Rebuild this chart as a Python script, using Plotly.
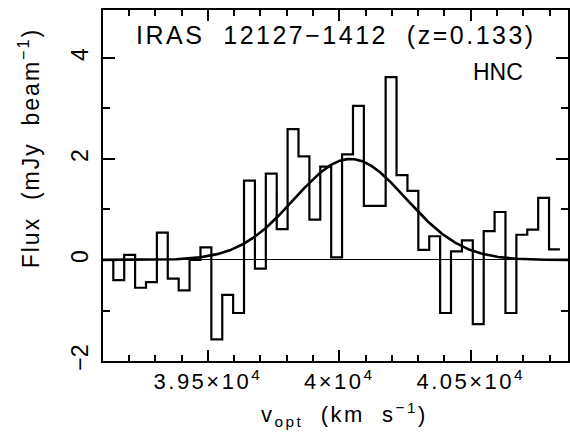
import numpy as np
import plotly.graph_objects as go

# channel centres (km/s) and flux densities (mJy/beam)
velocity = [39119.5, 39160.9, 39202.4, 39243.8, 39285.3, 39326.7, 39368.1, 39409.6,
            39451.0, 39492.5, 39533.9, 39575.4, 39616.8, 39658.2, 39699.7, 39741.1,
            39782.6, 39824.0, 39865.4, 39906.9, 39948.3, 39989.8, 40031.2, 40072.7,
            40114.1, 40155.5, 40197.0, 40238.4, 40279.9, 40321.3, 40362.8, 40404.2,
            40445.6, 40487.1, 40528.5, 40570.0, 40611.4, 40652.8, 40694.3, 40735.7,
            40777.2, 40818.6]
flux = [0.0, -0.40, 0.10, -0.55, -0.44, 0.54, -0.37, -0.60,
        0.0, 0.25, -1.57, -0.69, -1.05, 1.57, -0.17, 1.71,
        0.61, 2.59, 2.05, 0.80, 1.85, 0.05, 2.09, 3.05,
        1.07, 1.07, 3.62, 1.68, 1.37, 0.20, 0.47, -1.05,
        0.17, 0.39, -1.27, 0.57, 0.95, -1.05, 0.50, 0.60,
        1.23, 0.21]

# Gaussian fit parameters
fit_amp = 2.0
fit_center = 40042.0
fit_fwhm = 500.0

x_tickvals = [39500, 40000, 40500]
x_ticktext = ["3.95×10<sup>4</sup>", "4×10<sup>4</sup>", "4.05×10<sup>4</sup>"]
y_tickvals = [-2, 0, 2, 4]
y_ticktext = ["−2", "0", "2", "4"]

FONT = "Liberation Sans, Arial, sans-serif"
LS = "letter-spacing:2.5px"

vel = np.array(velocity)
width = float(np.median(np.diff(vel)))
edges = np.append(vel - width / 2, vel[-1] + width / 2)
step_y = flux + [flux[-1]]

sigma = fit_fwhm / (2 * np.sqrt(2 * np.log(2)))
xfit = np.linspace(39050, 40950, 600)
yfit = fit_amp * np.exp(-0.5 * ((xfit - fit_center) / sigma) ** 2)

fig = go.Figure()
fig.add_trace(go.Scatter(x=edges, y=step_y, mode="lines", line_shape="hv",
                         line=dict(color="black", width=2.2), hoverinfo="skip"))
fig.add_trace(go.Scatter(x=xfit, y=yfit, mode="lines",
                         line=dict(color="black", width=2.6), hoverinfo="skip"))

fig.update_layout(
    width=570, height=441,
    margin=dict(l=103, r=0, t=10, b=80, pad=0),
    paper_bgcolor="white", plot_bgcolor="white",
    showlegend=False,
    font=dict(family=FONT, size=22, color="black"),
)
fig.update_xaxes(
    range=[39101, 40870], showgrid=False, zeroline=False,
    showline=True, linecolor="black", linewidth=2, mirror="ticks",
    ticks="inside", ticklen=11, tickwidth=2, tickcolor="black",
    tickvals=x_tickvals,
    ticktext=[f'<span style="{LS}">{t}</span>' for t in x_ticktext],
    tickfont=dict(size=22),
    minor=dict(dtick=100, tick0=39100, ticks="inside", ticklen=6, tickwidth=2, tickcolor="black"),
)
fig.update_yaxes(
    range=[-2, 4.95], showgrid=False, zeroline=True, zerolinecolor="black", zerolinewidth=1,
    showline=True, linecolor="black", linewidth=2, mirror="ticks",
    ticks="inside", ticklen=12, tickwidth=2, tickcolor="black",
    tickvals=y_tickvals, ticktext=y_ticktext, tickangle=-90,
    tickfont=dict(size=23), ticklabelstandoff=4,
    minor=dict(dtick=1, tick0=0, ticks="inside", ticklen=7, tickwidth=2, tickcolor="black"),
)

fig.add_annotation(text=f'<span style="{LS}">IRAS  12127−1412  (z=0.133)</span>',
                   xref="paper", yref="paper", x=(337 - 103) / 467, y=(441 - 80 - 35) / 351,
                   xanchor="center", yanchor="middle", showarrow=False,
                   font=dict(size=25))
fig.add_annotation(text="HNC",
                   xref="paper", yref="paper", x=(500 - 103) / 467, y=(441 - 80 - 72) / 351,
                   xanchor="center", yanchor="middle", showarrow=False,
                   font=dict(size=23))
fig.add_annotation(text=f'<span style="{LS}">v<sub>opt</sub>  (km  s<sup>−1</sup>)</span>',
                   xref="paper", yref="paper", x=(346 - 103) / 467, y=(441 - 80 - 415) / 351,
                   xanchor="center", yanchor="middle", showarrow=False,
                   font=dict(size=22))
fig.add_annotation(text='<span style="letter-spacing:2px">Flux  (mJy  beam<sup>−1</sup>)</span>',
                   xref="paper", yref="paper", x=(29 - 103) / 467, y=(441 - 80 - 148) / 351,
                   xanchor="center", yanchor="middle", showarrow=False, textangle=-90,
                   font=dict(size=23))

fig.write_html("out.html", config={"displayModeBar": False},
               post_script="document.body.style.margin='0px';")
